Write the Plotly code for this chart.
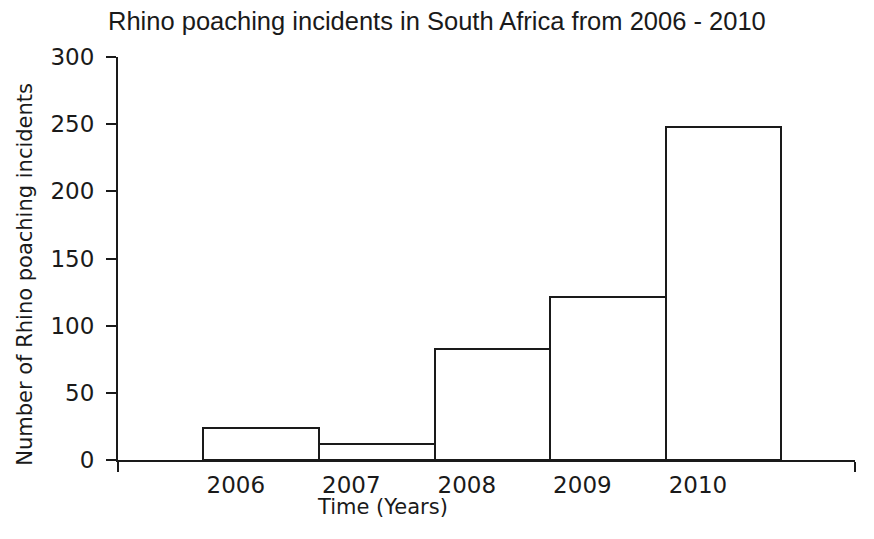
import plotly.graph_objects as go

years = [2006, 2007, 2008, 2009, 2010]
incidents = [24, 12, 83, 121, 248]
year_labels = ["2006", "2007", "2008", "2009", "2010"]
y_ticks = [0, 50, 100, 150, 200, 250, 300]

title_text = "Rhino poaching incidents in South Africa from 2006 - 2010"
x_title = "Time (Years)"
y_title = "Number of Rhino poaching incidents"

INK = "#1a1a1a"
TICK_FONT = dict(family="DejaVu Sans", size=23, color=INK)
X_RANGE = [2004.76, 2011.14]
LABEL_SHIFT = -0.22

fig = go.Figure()
fig.add_trace(go.Bar(
    x=years, y=incidents, width=1,
    marker=dict(color="white", line=dict(color=INK, width=2)),
    hoverinfo="skip", showlegend=False,
))
fig.add_trace(go.Scatter(
    x=years, y=incidents, xaxis="x2", mode="markers",
    marker=dict(opacity=0), hoverinfo="skip", showlegend=False,
))

fig.update_layout(
    width=874, height=539,
    paper_bgcolor="white", plot_bgcolor="white",
    margin=dict(l=118, r=19, t=57, b=79, autoexpand=False),
    bargap=0,
    xaxis=dict(
        range=X_RANGE, showline=True, linewidth=2, linecolor=INK,
        ticks="outside", ticklen=10, tickwidth=2, tickcolor=INK,
        tickvals=X_RANGE, showticklabels=False,
        showgrid=False, zeroline=False,
    ),
    xaxis2=dict(
        range=X_RANGE, overlaying="x", anchor="y", side="bottom",
        showline=False, ticks="", showgrid=False, zeroline=False,
        tickvals=[y + LABEL_SHIFT for y in years], ticktext=year_labels,
        tickfont=TICK_FONT, ticklabelstandoff=9,
    ),
    yaxis=dict(
        range=[0, 300], showline=True, linewidth=2, linecolor=INK,
        ticks="outside", ticklen=10, tickwidth=2, tickcolor=INK,
        tickvals=y_ticks, tickfont=TICK_FONT, ticklabelstandoff=7,
        showgrid=False, zeroline=False,
    ),
    annotations=[
        dict(text=title_text, xref="paper", yref="paper", x=0.4328, y=1.09,
             xanchor="center", yanchor="middle", showarrow=False,
             font=dict(family="Liberation Sans", size=25.5, color=INK)),
        dict(text=x_title, xref="paper", yref="paper", x=0.359, y=-0.116,
             xanchor="center", yanchor="middle", showarrow=False,
             font=dict(family="DejaVu Sans", size=21, color=INK)),
        dict(text=y_title, xref="paper", yref="paper", x=-0.1262, y=0.462,
             xanchor="center", yanchor="middle", showarrow=False, textangle=-90,
             font=dict(family="DejaVu Sans", size=21, color=INK)),
    ],
)

fig.write_html(
    "out.html",
    config={"displayModeBar": False},
    post_script="document.body.style.margin='0';document.body.style.padding='0';",
)
